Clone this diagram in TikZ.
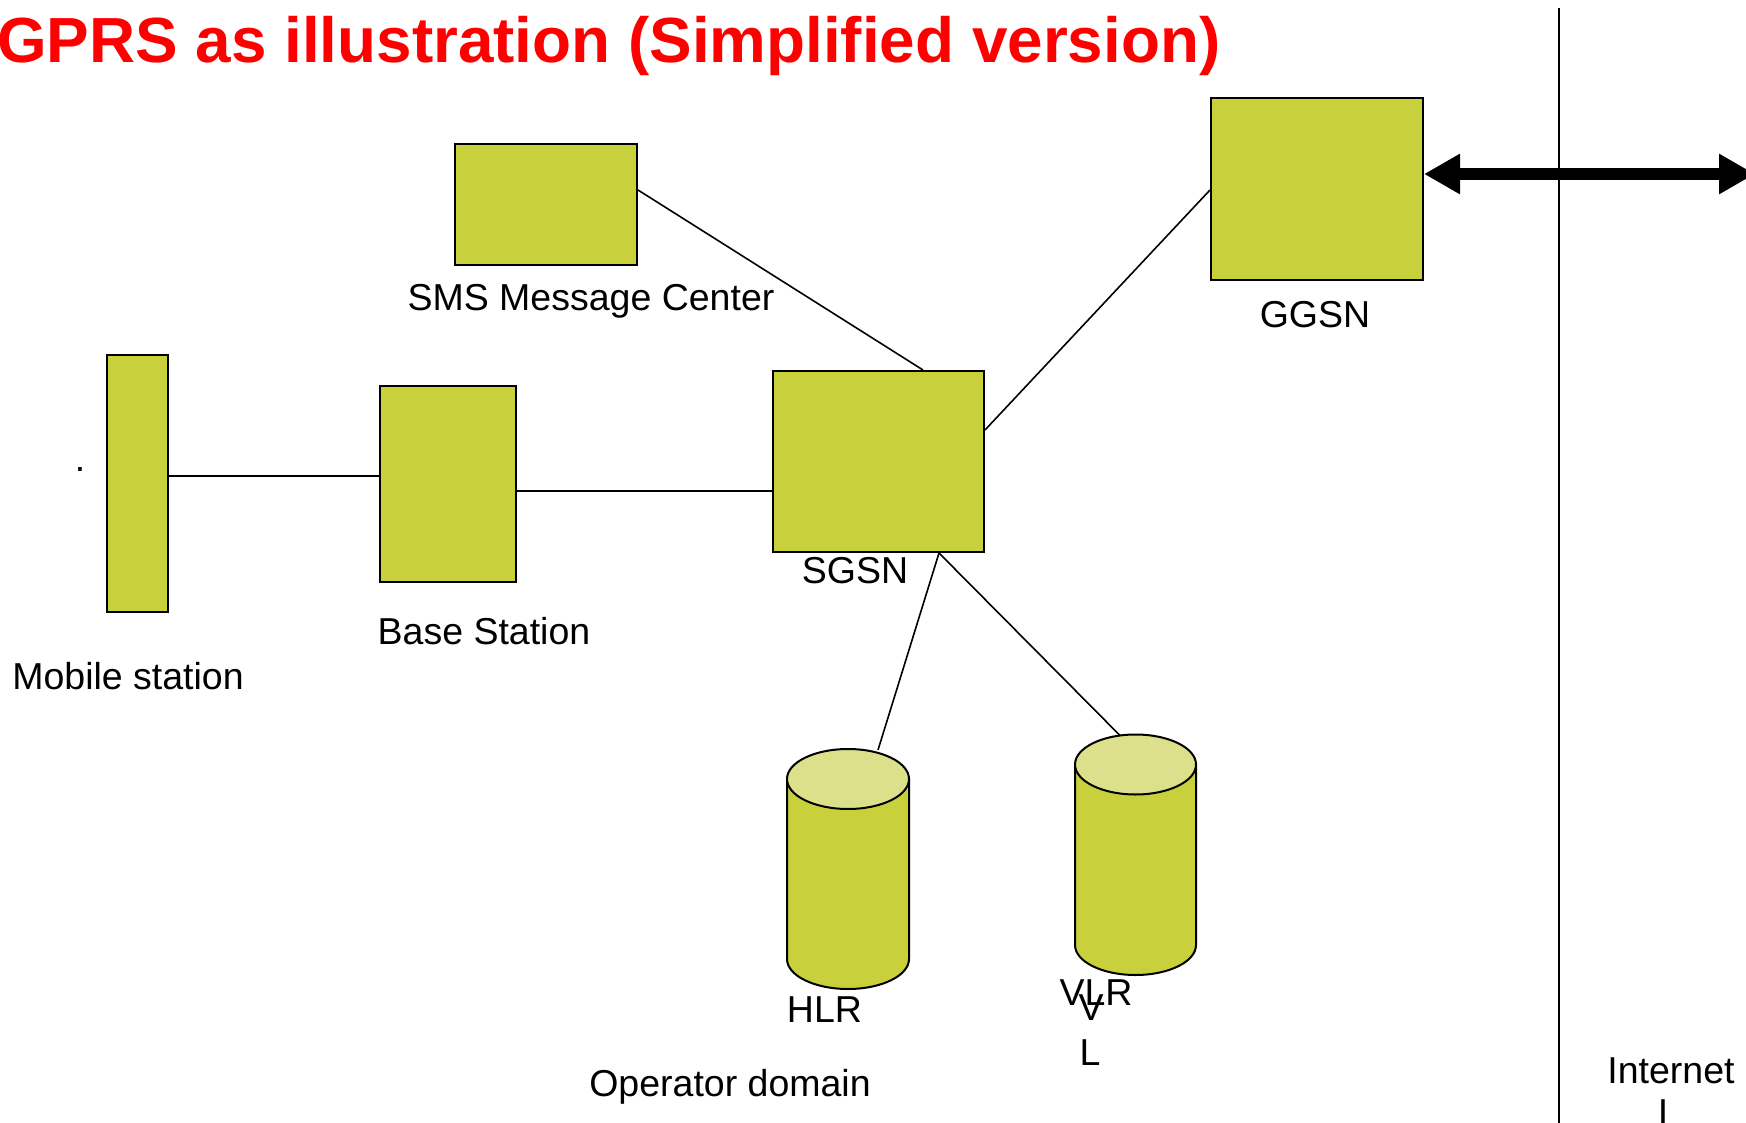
\documentclass[tikz,border=0pt]{standalone}
\usepackage{fontspec}
\setmainfont{Liberation Sans}
\usetikzlibrary{arrows.meta,calc}
\definecolor{nodefill}{HTML}{C8D13C}
\definecolor{capfill}{HTML}{DCE08A}
\begin{document}
\begin{tikzpicture}[x=1pt,y=-1pt,
  box/.style={draw=black, line width=2pt, fill=nodefill, inner sep=0pt},
  wire/.style={line width=1.6pt},
  lbl/.style={font=\fontsize{37.5}{45}\selectfont, anchor=base, inner sep=0pt},
  cylbody/.style={draw=black, line width=2pt, fill=nodefill},
  cylcap/.style={draw=black, line width=2pt, fill=capfill},
  bigarrow/.style={line width=12pt, {Triangle[length=36pt,width=38pt]}-{Triangle[length=36pt,width=38pt]}},
]
\useasboundingbox (0,0) rectangle (1746,1123);

% title
\node[anchor=base west, inner sep=0pt, text=red,
      font=\fontsize{63.8}{70}\selectfont\bfseries] (title) at (-3,63)
  {GPRS as illustration (Simplified version)};

% network elements
\node[box, minimum width=61pt,  minimum height=257pt] (ms)   at (137.5,483.5) {};
\node[box, minimum width=136pt, minimum height=196pt] (bs)   at (448,484) {};
\node[box, minimum width=182pt, minimum height=121pt] (sms)  at (546,204.5) {};
\node[box, minimum width=211pt, minimum height=181pt] (sgsn) at (878.5,461.5) {};
\node[box, minimum width=212pt, minimum height=182pt] (ggsn) at (1317,189) {};

% databases
\draw[cylbody] (787,779) -- (787,959) arc[start angle=180, end angle=0, x radius=61, y radius=30] -- (909,779) -- cycle;
\draw[cylcap] (848,779) ellipse [x radius=61, y radius=30];
\coordinate (hlr) at (878,750);

\draw[cylbody] (1075,764.5) -- (1075,945) arc[start angle=180, end angle=0, x radius=60.5, y radius=30] -- (1196,764.5) -- cycle;
\draw[cylcap] (1135.5,764.5) ellipse [x radius=60.5, y radius=30];
\coordinate (vlr) at (1120,735.5);

% links
\draw[wire] ($(ms.east)+(0,-7.5)$) -- ($(bs.west)+(0,-8)$);
\draw[wire] ($(bs.east)+(0,7)$) -- ($(sgsn.west)+(0,29.5)$);
\draw[wire] ($(sms.east)+(0,-14.5)$) -- ($(sgsn.north)+(44.5,0)$);
\draw[wire] ($(sgsn.east)+(0,-31.5)$) -- ($(ggsn.west)+(0,1)$);
\draw[wire] ($(sgsn.south)+(60.5,0)$) -- (hlr);
\draw[wire] ($(sgsn.south)+(60.5,0)$) -- (vlr);

% boundary between operator domain and internet
\coordinate (divtop) at (1559,8);
\coordinate (divbot) at (1559,1123);
\draw[line width=2pt] (divtop) -- (divbot);

% link to the internet
\coordinate (netend) at (1755,174);
\draw[bigarrow] ($(ggsn.east)+(0,-15)$) -- (netend);

% labels
\node[lbl] (dotl)   at (80,471)   {.};
\node[lbl] (msl)    at (128,689)  {Mobile station};
\node[lbl] (bsl)    at (484,644)  {Base Station};
\node[lbl] (smsl)   at (591,311)  {SMS Message Center};
\node[lbl] (sgsnl)  at (855,583)  {SGSN};
\node[lbl] (ggsnl)  at (1315,328) {GGSN};
\node[lbl] (hlrl)   at (824.5,1022) {HLR};
\node[lbl] (vlrl)   at (1096,1005) {VLR};
\node[lbl] (vl1)    at (1091,1020) {V};
\node[lbl] (vl2)    at (1090,1065) {L};
\node[lbl] (opl)    at (730,1096) {Operator domain};
\node[lbl] (netl)   at (1671,1083) {Internet};
\node[lbl] (netl2)  at (1663,1125) {I};
\end{tikzpicture}
\end{document}
